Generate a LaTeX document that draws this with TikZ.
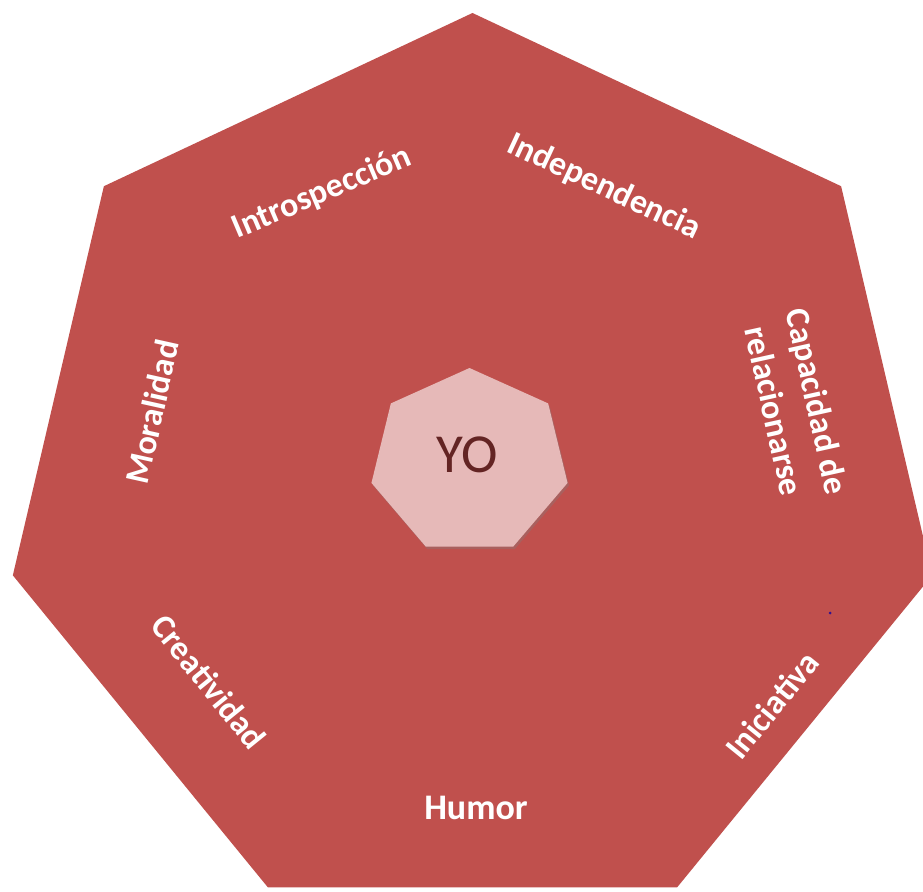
\documentclass[tikz,border=0pt]{standalone}
\usepackage{fontspec}
\setmainfont{Carlito}
\usepackage{tikz}
\usetikzlibrary{shapes.geometric}
\usetikzlibrary{shadows}
\definecolor{rojo}{HTML}{C0504D}
\definecolor{rosa}{HTML}{E6B9B8}
\definecolor{vino}{HTML}{632423}
\tikzstyle{heptagono}=[regular polygon, regular polygon sides=7, inner sep=0pt, outer sep=0pt, transform shape]
\tikzstyle{rasgo}=[text=white, font=\fontsize{34}{44}\selectfont\bfseries, align=center, inner sep=0pt]

\begin{document}
\begin{tikzpicture}[x=1pt,y=-1pt]
\useasboundingbox (0,0) rectangle (923,891);

% heptagono grande y el YO
\node[heptagono, fill=rojo, minimum size=920pt, xscale=1.025] (base) at (472.5,473) {};
\node[heptagono, fill=rosa, minimum size=188pt, xscale=1.07,
  drop shadow={shadow xshift=1.5pt, shadow yshift=-2.5pt, opacity=.35}] (centro) at (469.5,462) {};
\node[text=vino, font=\fontsize{55}{60}\selectfont] (yo) at (467.5,455) {YO};

% rasgos alrededor
\node[rasgo, rotate=23] (intro) at (322,193) {Introspección};
\node[rasgo, rotate=-25] (indep) at (604,187) {Independencia};
\node[rasgo, rotate=-77.5] (capac) at (796,406) {Capacidad de\\relacionarse};
\node[rasgo, rotate=77.5] (moral) at (152,412) {Moralidad};
\node[rasgo, rotate=-51] (creat) at (209,682) {Creatividad};
\node[rasgo, rotate=51] (inic) at (772,705) {Iniciativa};
\node[rasgo, font=\fontsize{36}{44}\selectfont\bfseries] (humor) at (476,808) {Humor};

\fill[vino!50!blue] (830,613) circle (1.5);
\end{tikzpicture}
\end{document}
